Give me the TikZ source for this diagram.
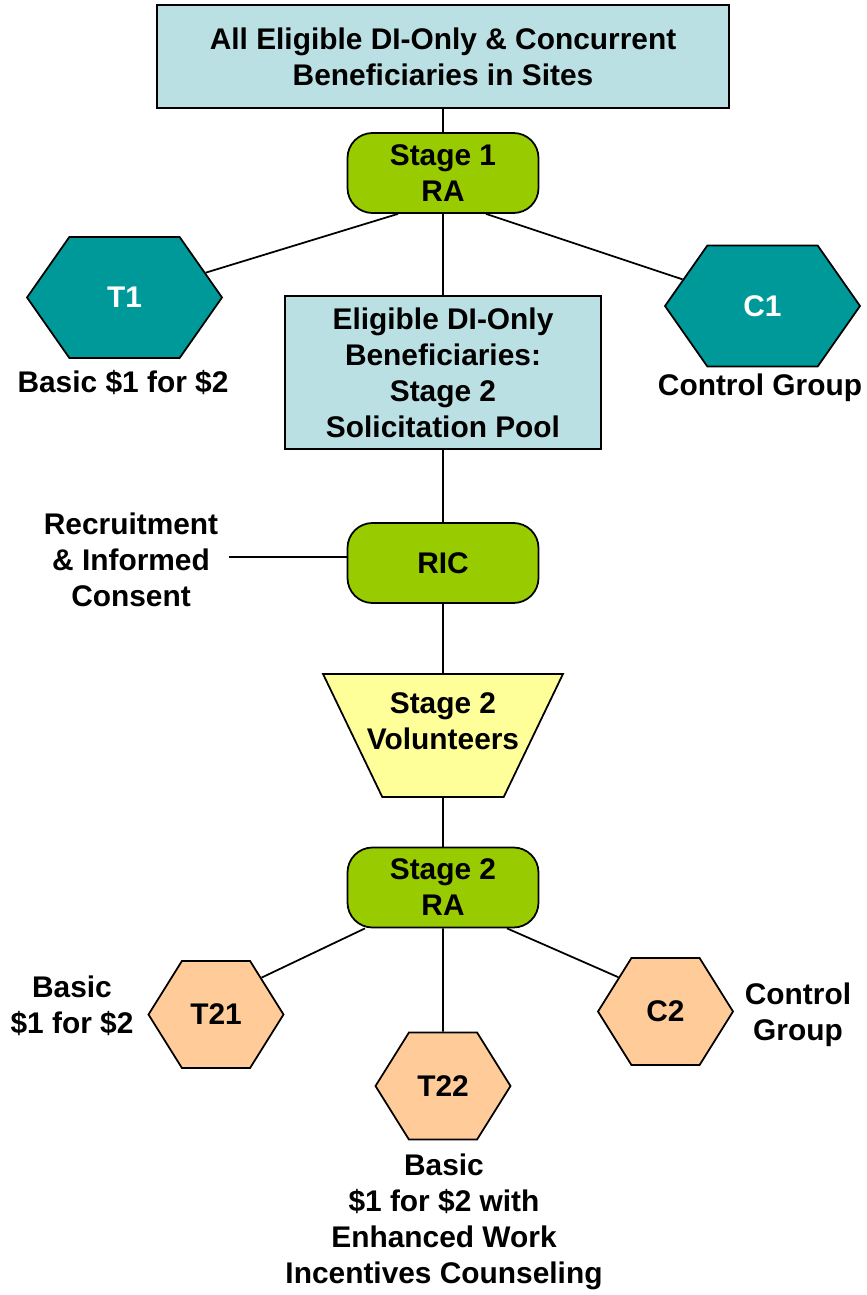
\documentclass[tikz,border=0pt]{standalone}
\usepackage{fontspec}
\setmainfont{Liberation Sans}
\usetikzlibrary{shapes.geometric,shapes.symbols,calc}

\definecolor{poolblue}{HTML}{BBE0E3}
\definecolor{ragreen}{HTML}{99CC00}
\definecolor{hexteal}{HTML}{009999}
\definecolor{volyellow}{HTML}{FFFF99}
\definecolor{hexpeach}{HTML}{FFCC99}

\tikzset{
  every node/.style={font=\fontsize{17}{20.5}\selectfont\bfseries, align=center},
  poolbox/.style={draw, fill=poolblue, line width=1pt, inner sep=0pt},
  rabox/.style={draw, fill=ragreen, rounded corners=0.5cm, minimum width=3.82cm, minimum height=1.6cm, line width=1pt},
  bighex/.style={signal, signal to=east and west, signal pointer angle=110, draw, fill=hexteal, text=white, minimum width=3.9cm, minimum height=2.42cm, line width=1pt, inner sep=0pt},
  smallhex/.style={signal, signal to=east and west, signal pointer angle=116, draw, fill=hexpeach, minimum width=2.7cm, minimum height=2.14cm, line width=1pt, inner sep=0pt},
  link/.style={line width=1pt}
}

\begin{document}
\begin{tikzpicture}
    \useasboundingbox (0,0) rectangle (17.32,-25.9);

    % Stage 1
    \node[poolbox, minimum width=11.44cm, minimum height=2.06cm] (all) at (8.86,-1.13) {All Eligible DI-Only \& Concurrent\\Beneficiaries in Sites};
    \node[rabox] (ra1) at (8.86,-3.46) {Stage 1\\RA};
    \node[bighex] (t1) at (2.49,-5.95) {T1};
    \node[bighex] (c1) at (15.25,-6.12) {C1};
    \node (t1lbl) at (2.46,-7.66) {Basic \$1 for \$2};
    \node (c1lbl) at (15.2,-7.76) {Control Group};

    % Solicitation pool and recruitment
    \node[poolbox, minimum width=6.32cm, minimum height=3.06cm] (pool) at (8.86,-7.45) {Eligible DI-Only\\Beneficiaries:\\Stage 2\\Solicitation Pool};
    \node[rabox] (ric) at (8.86,-11.26) {RIC};
    \node (riclbl) at (2.62,-11.2) {Recruitment\\\& Informed\\Consent};
    \node[trapezium, shape border rotate=180, trapezium left angle=64, trapezium right angle=64,
          trapezium stretches=true, minimum width=4.8cm, minimum height=2.46cm, draw, fill=volyellow,
          line width=1pt, label={[yshift=0.28cm]center:Stage 2\\Volunteers}] (vol) at (8.86,-14.71) {};

    % Stage 2
    \node[rabox] (ra2) at (8.86,-17.75) {Stage 2\\RA};
    \node[smallhex] (t21) at (4.32,-20.29) {T21};
    \node[smallhex] (t22) at (8.86,-21.72) {T22};
    \node[smallhex] (c2) at (13.31,-20.23) {C2};
    \node (t21lbl) at (1.44,-20.12) {Basic\\\$1 for \$2};
    \node (c2lbl) at (15.96,-20.3) {Control\\Group};
    \node (t22lbl) at (8.88,-24.44) {Basic\\\$1 for \$2 with\\Enhanced Work\\Incentives Counseling};

    % Connectors
    \draw[link] (all) -- (ra1);
    \draw[link] ($(ra1.south)+(-0.9,0)$) -- (t1);
    \draw[link] (ra1) -- (pool);
    \draw[link] ($(ra1.south)+(0.86,0)$) -- (c1);
    \draw[link] (pool) -- (ric);
    \draw[link] ($(ric.west)+(0,0.12)$) -- ($(ric.west -| riclbl.east)+(0.1,0.12)$);
    \draw[link] (ric) -- (vol);
    \draw[link] (vol) -- (ra2);
    \draw[link] ($(ra2.south)+(-1.56,0)$) -- (t21.39);
    \draw[link] (ra2) -- (t22);
    \draw[link] ($(ra2.south)+(1.28,0)$) -- (c2.144);
\end{tikzpicture}
\end{document}
